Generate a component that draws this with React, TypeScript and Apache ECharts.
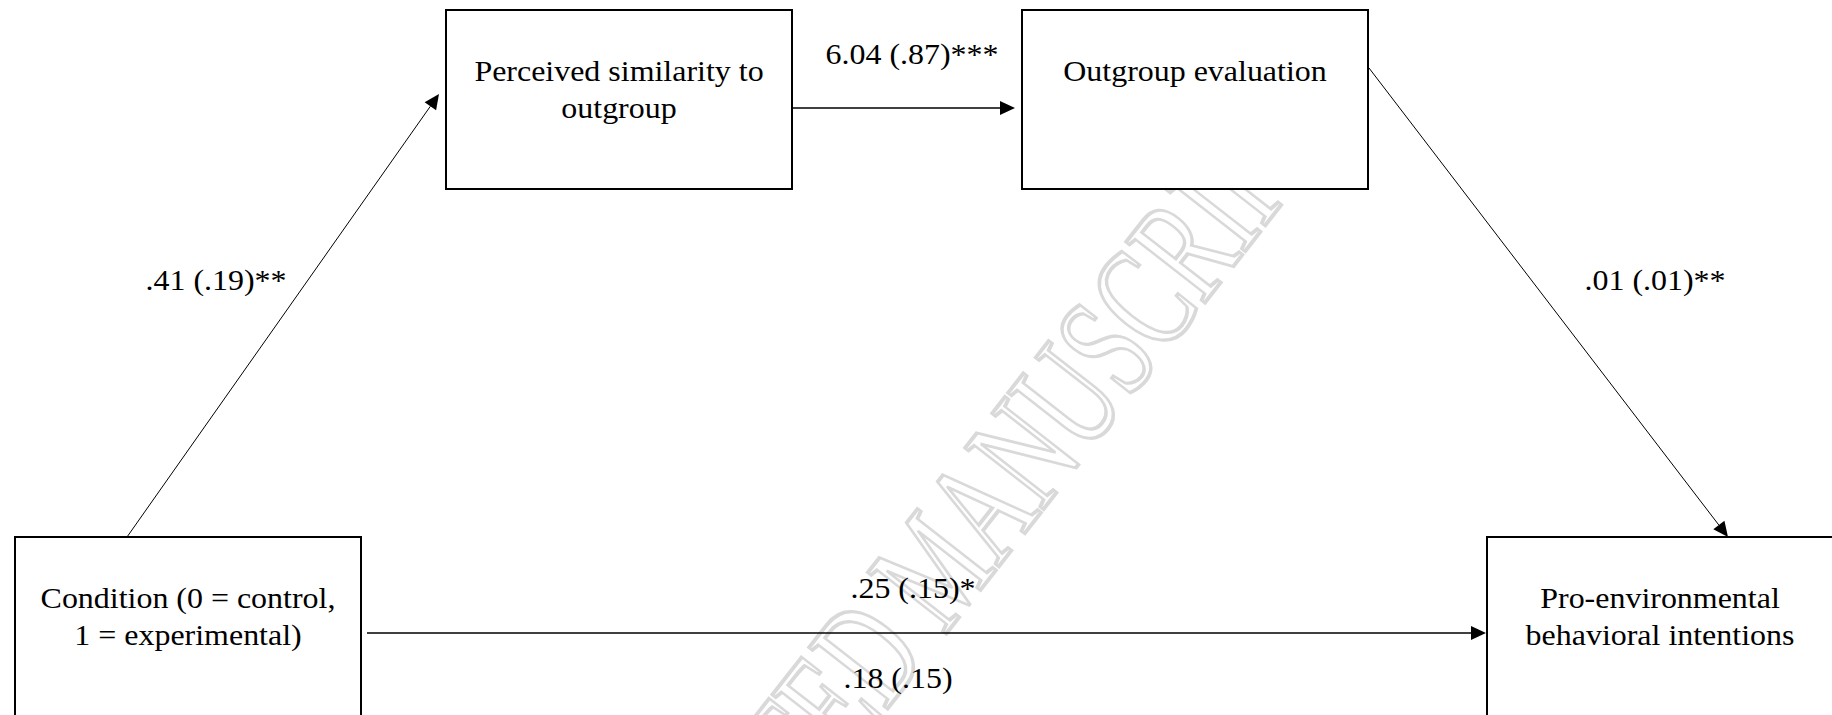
import React, { useEffect, useRef } from "react";
import * as echarts from "echarts";

// ---- Diagram content ----
const nodeLabels: string[][] = [
  ["Perceived similarity to", "outgroup"],
  ["Outgroup evaluation"],
  ["Condition (0 = control,", "1 = experimental)"],
  ["Pro-environmental", "behavioral intentions"],
];
const pathLabels: string[] = [
  ".41 (.19)**",   // Condition -> Similarity
  "6.04 (.87)***", // Similarity -> Evaluation
  ".01 (.01)**",   // Evaluation -> Intentions
  ".25 (.15)*",    // Condition -> Intentions (total)
  ".18 (.15)",     // Condition -> Intentions (direct)
];
const watermark = "ACCEPTED MANUSCRIPT";

// ---- Layout (pixels) ----
const BOX_W = 346;
const BOX_H = 179;
const boxPos: [number, number][] = [
  [446, 10],
  [1022, 10],
  [15, 537],
  [1487, 537],
];
const lineFirstY = 61; // offset from box top to first line middle
const lineGap = 37;
// label anchors [cx, cy]
const labelPos: [number, number][] = [
  [216, 280],
  [912, 54],
  [1655, 280],
  [913, 588],
  [898, 678],
];
// arrows: [x1, y1, x2, y2, lineWidth]
const arrows: [number, number, number, number, number][] = [
  [127, 537, 439, 94, 1],
  [793, 108, 1015, 108, 1.5],
  [1369, 68, 1728, 537, 1],
  [367, 633, 1486, 633, 1.5],
];

const FONT = "'Liberation Serif', 'Times New Roman', serif";
const FS = 30;
const SX = 1.065;

function textEl(str: string, x: number, y: number, z = 10) {
  return {
    type: "text",
    x,
    y,
    scaleX: SX,
    scaleY: 1,
    z,
    style: {
      text: str,
      fill: "#000",
      font: `${FS}px ${FONT}`,
      align: "center",
      verticalAlign: "middle",
    },
  };
}

function arrowEls(a: [number, number, number, number, number]) {
  const [x1, y1, x2, y2, lw] = a;
  const dx = x2 - x1;
  const dy = y2 - y1;
  const len = Math.sqrt(dx * dx + dy * dy);
  const ux = dx / len;
  const uy = dy / len;
  const headL = 15;
  const headW = 7;
  const bx = x2 - ux * headL;
  const by = y2 - uy * headL;
  const px = -uy;
  const py = ux;
  return [
    {
      type: "line",
      z: 5,
      shape: { x1, y1, x2: bx, y2: by },
      style: { stroke: "#000", lineWidth: lw },
    },
    {
      type: "polygon",
      z: 5,
      shape: {
        points: [
          [x2, y2],
          [bx + px * headW, by + py * headW],
          [bx - px * headW, by - py * headW],
        ],
      },
      style: { fill: "#000" },
    },
  ];
}

export default function App() {
  const ref = useRef<HTMLDivElement>(null);
  useEffect(() => {
    if (!ref.current) return;
    const chart = echarts.init(ref.current, null, { renderer: "svg" });
    const elements: any[] = [];

    // watermark (behind everything)
    elements.push({
      type: "text",
      x: 935,
      y: 565,
      rotation: (52 * Math.PI) / 180,
      scaleX: 1,
      scaleY: 1.55,
      z: 1,
      style: {
        text: watermark,
        font: `98px ${FONT}`,
        fill: "none",
        stroke: "#d9d9d9",
        lineWidth: 2.5,
        align: "center",
        verticalAlign: "middle",
      },
    });

    arrows.forEach((a) => elements.push(...arrowEls(a)));

    boxPos.forEach(([x, y], i) => {
      elements.push({
        type: "rect",
        z: 8,
        shape: { x, y, width: BOX_W, height: BOX_H },
        style: { fill: "#fff", stroke: "#000", lineWidth: 2 },
      });
      nodeLabels[i].forEach((ln, j) => {
        elements.push(textEl(ln, x + BOX_W / 2, y + lineFirstY + j * lineGap));
      });
    });

    pathLabels.forEach((lbl, i) => {
      elements.push(textEl(lbl, labelPos[i][0], labelPos[i][1]));
    });

    chart.setOption({
      animation: false,
      backgroundColor: "#fff",
      graphic: { elements },
    });
    return () => chart.dispose();
  }, []);
  return (
    <div
      ref={ref}
      style={{ position: "fixed", left: 0, top: 0, width: 1832, height: 715 }}
    />
  );
}
